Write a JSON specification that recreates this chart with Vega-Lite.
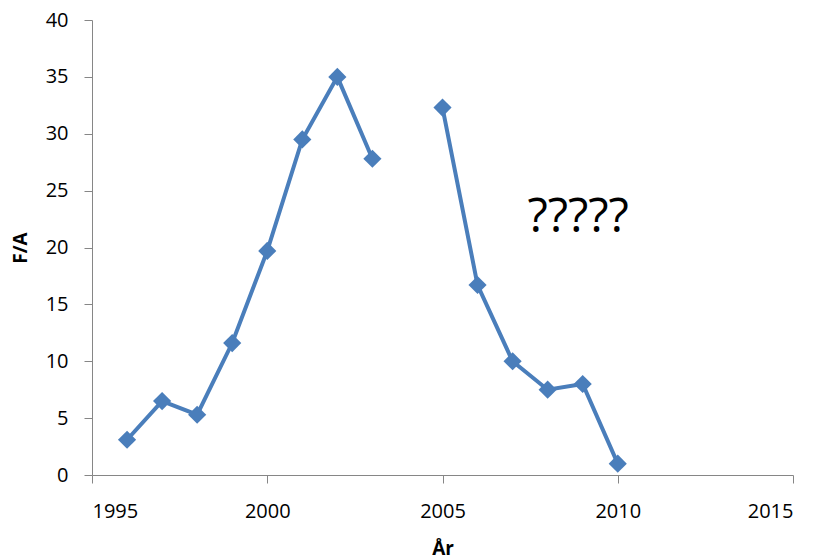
{
  "$schema": "https://vega.github.io/schema/vega-lite/v6.json",
  "autosize": "none",
  "width": 701,
  "height": 455,
  "padding": {"left": 92, "top": 20, "right": 30, "bottom": 85},
  "background": "white",
  "config": {
    "view": {"stroke": null},
    "font": "Open Sans"
  },
  "datasets": {
    "series": [
      {"year": 1996, "fa": 3.1, "seg": 1},
      {"year": 1997, "fa": 6.5, "seg": 1},
      {"year": 1998, "fa": 5.3, "seg": 1},
      {"year": 1999, "fa": 11.6, "seg": 1},
      {"year": 2000, "fa": 19.7, "seg": 1},
      {"year": 2001, "fa": 29.5, "seg": 1},
      {"year": 2002, "fa": 35.0, "seg": 1},
      {"year": 2003, "fa": 27.8, "seg": 1},
      {"year": 2005, "fa": 32.3, "seg": 2},
      {"year": 2006, "fa": 16.7, "seg": 2},
      {"year": 2007, "fa": 10.0, "seg": 2},
      {"year": 2008, "fa": 7.5, "seg": 2},
      {"year": 2009, "fa": 8.0, "seg": 2},
      {"year": 2010, "fa": 1.0, "seg": 2}
    ],
    "note": [{"x": 2008.87, "y": 22.6, "label": "?????"}]
  },
  "layer": [
    {
      "data": {"name": "series"},
      "mark": {"type": "line", "color": "#4a7ebb", "strokeWidth": 4},
      "encoding": {
        "x": {
          "field": "year", "type": "quantitative",
          "scale": {"domain": [1995, 2015], "nice": false, "zero": false},
          "axis": {
            "title": "År", "values": [1995, 2000, 2005, 2010, 2015], "format": "d",
            "grid": false, "domainColor": "#868686", "tickColor": "#868686",
            "tickSize": 8, "labelPadding": 18, "labelFontSize": 20, "labelColor": "#000",
            "labelFont": "Open Sans", "titleFont": "Open Sans",
            "titleFontSize": 19, "titleFontWeight": "bold", "titleColor": "#000",
            "titlePadding": 18
          }
        },
        "y": {
          "field": "fa", "type": "quantitative",
          "scale": {"domain": [0, 40], "nice": false},
          "axis": {
            "title": "F/A", "values": [0, 5, 10, 15, 20, 25, 30, 35, 40],
            "grid": false, "domainColor": "#868686", "tickColor": "#868686",
            "tickSize": 8, "labelPadding": 16, "labelFontSize": 20, "labelColor": "#000",
            "labelFont": "Open Sans", "titleFont": "Open Sans",
            "titleFontSize": 19, "titleFontWeight": "bold", "titleColor": "#000",
            "titlePadding": 15
          }
        },
        "detail": {"field": "seg", "type": "nominal"}
      }
    },
    {
      "data": {"name": "series"},
      "mark": {"type": "point", "shape": "diamond", "filled": true, "color": "#4a7ebb", "opacity": 1, "size": 330},
      "encoding": {
        "x": {"field": "year", "type": "quantitative"},
        "y": {"field": "fa", "type": "quantitative"}
      }
    },
    {
      "data": {"name": "note"},
      "mark": {"type": "text", "fontSize": 47, "font": "Open Sans", "color": "#000", "align": "center", "baseline": "middle"},
      "encoding": {
        "x": {"field": "x", "type": "quantitative"},
        "y": {"field": "y", "type": "quantitative"},
        "text": {"field": "label"}
      }
    }
  ]
}
